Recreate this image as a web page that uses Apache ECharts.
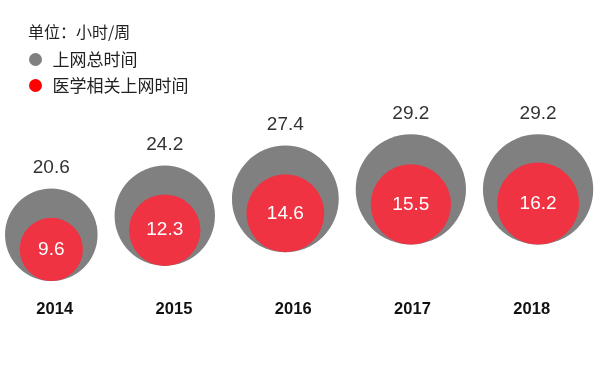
<!DOCTYPE html>
<html>
<head>
<meta charset="utf-8">
<script src="https://cdn.jsdelivr.net/npm/echarts@6/dist/echarts.min.js"></script>
<style>html,body{margin:0;padding:0;background:#fff;}#c{width:600px;height:389px;}</style>
</head>
<body>
<div id="c"></div>
<script>
var years = ['2014', '2015', '2016', '2017', '2018'];
var totalHours = [20.6, 24.2, 27.4, 29.2, 29.2];
var medicalHours = [9.6, 12.3, 14.6, 15.5, 16.2];
var seriesNames = ['上网总时间', '医学相关上网时间'];
var unitText = '单位：小时/周';

// bubble layout: area proportional to value, bubbles packed left to right with a constant gap
var K = 10.2, PAD = 5, GAP = 17;
function rad(v) { return K * Math.sqrt(v); }
var xPos = [];
for (var i = 0; i < totalHours.length; i++) {
  if (i === 0) xPos.push(PAD + rad(totalHours[0]));
  else xPos.push(xPos[i - 1] + rad(totalHours[i - 1]) + GAP + rad(totalHours[i]));
}

var font = "'Liberation Sans','Noto Sans CJK SC',sans-serif";
var chart = echarts.init(document.getElementById('c'), null, { renderer: 'canvas' });
chart.setOption({
  animation: false,
  textStyle: { fontFamily: font },
  title: {
    text: unitText, left: 28, top: 24, padding: 0,
    textStyle: { fontSize: 16, fontWeight: 'normal', color: '#222', fontFamily: "'Noto Sans CJK SC',sans-serif" }
  },
  legend: {
    orient: 'vertical', left: 29, top: 51, padding: 0,
    itemWidth: 24, itemHeight: 13, itemGap: 9, icon: 'circle',
    textStyle: { fontSize: 17, color: '#222', lineHeight: 17, fontFamily: "'Noto Sans CJK SC',sans-serif" },
    data: [
      { name: seriesNames[0], itemStyle: { color: '#808080' } },
      { name: seriesNames[1], itemStyle: { color: '#ff0000' } }
    ]
  },
  grid: [
    { left: 0, right: 0, top: 132.5, bottom: 45.7 },
    { left: 54.7, right: 68.3, top: 250, bottom: 89 }
  ],
  xAxis: [
    { type: 'value', gridIndex: 0, min: 0, max: 600, show: false },
    {
      type: 'category', gridIndex: 1, data: years, boundaryGap: false,
      axisLine: { show: false }, axisTick: { show: false }, splitLine: { show: false },
      axisLabel: { margin: 1, fontSize: 16.5, fontWeight: 'bold', color: '#111', fontFamily: font }
    }
  ],
  yAxis: [
    { type: 'value', gridIndex: 0, min: 0, max: 40, show: false },
    { type: 'value', gridIndex: 1, show: false }
  ],
  series: [
    {
      name: seriesNames[0], type: 'scatter', xAxisIndex: 0, yAxisIndex: 0,
      data: totalHours.map(function (v, i) { return [xPos[i], v]; }),
      symbolSize: function (d) { return 2 * rad(d[1]); },
      itemStyle: { color: '#808080', opacity: 1 },
      label: {
        show: true, position: 'top', distance: 11, fontSize: 19, color: '#333', fontFamily: font,
        formatter: function (p) { return totalHours[p.dataIndex].toFixed(1); }
      },
      emphasis: { disabled: true }, silent: true
    },
    {
      name: seriesNames[1], type: 'scatter', xAxisIndex: 0, yAxisIndex: 0,
      data: totalHours.map(function (v, i) {
        return {
          value: [xPos[i], v],
          symbolSize: 2 * rad(medicalHours[i]),
          symbolOffset: [0, rad(v) - rad(medicalHours[i])]
        };
      }),
      itemStyle: { color: '#ef3343', opacity: 1 },
      label: {
        show: true, position: 'inside', fontSize: 19, color: '#fff', fontFamily: font,
        formatter: function (p) { return medicalHours[p.dataIndex].toFixed(1); }
      },
      emphasis: { disabled: true }, silent: true
    }
  ]
});
</script>
</body>
</html>
